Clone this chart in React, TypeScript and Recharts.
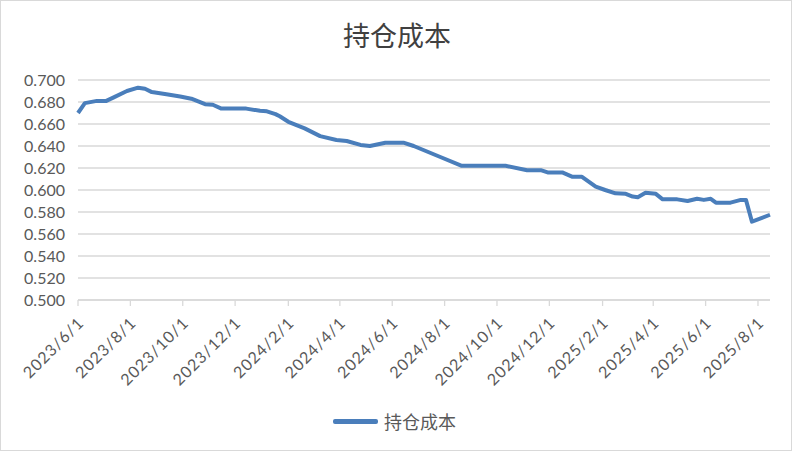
import React from 'react';
import { LineChart, Line, XAxis, YAxis, CartesianGrid } from 'recharts';

// values (date, holding cost)
const dates = [
    '2023-06-01', '2023-06-09', '2023-06-23', '2023-07-04', '2023-07-12', '2023-07-28',
    '2023-08-10', '2023-08-18', '2023-08-26', '2023-09-12', '2023-09-28', '2023-10-11',
    '2023-10-27', '2023-11-05', '2023-11-15', '2023-12-14', '2023-12-30', '2024-01-07',
    '2024-01-17', '2024-01-22', '2024-02-01', '2024-02-20', '2024-03-09', '2024-03-28',
    '2024-04-09', '2024-04-25', '2024-05-06', '2024-05-24', '2024-06-14', '2024-06-26',
    '2024-07-27', '2024-08-21', '2024-10-11', '2024-11-05', '2024-11-21', '2024-11-29',
    '2024-12-16', '2024-12-28', '2025-01-08', '2025-01-24', '2025-02-04', '2025-02-16',
    '2025-02-28', '2025-03-08', '2025-03-14', '2025-03-23', '2025-04-04', '2025-04-12',
    '2025-04-29', '2025-05-11', '2025-05-22', '2025-05-30', '2025-06-07', '2025-06-13',
    '2025-06-30', '2025-07-12', '2025-07-18', '2025-07-25', '2025-08-15',
];

const cost = [
    0.670, 0.679, 0.681, 0.681, 0.684, 0.690,
    0.693, 0.692, 0.689, 0.687, 0.685, 0.683,
    0.678, 0.6775, 0.674, 0.674, 0.672, 0.6715,
    0.669, 0.667, 0.662, 0.656, 0.649, 0.6455,
    0.6445, 0.641, 0.640, 0.643, 0.643, 0.640,
    0.630, 0.622, 0.622, 0.618, 0.618, 0.616,
    0.616, 0.612, 0.612, 0.603, 0.600, 0.597,
    0.5965, 0.594, 0.5935, 0.5975, 0.5965, 0.5915,
    0.5915, 0.590, 0.592, 0.591, 0.592, 0.5885,
    0.5885, 0.591, 0.591, 0.5712, 0.5775,
];

const tickDates = [
    '2023-06-01', '2023-08-01', '2023-10-01', '2023-12-01', '2024-02-01', '2024-04-01',
    '2024-06-01', '2024-08-01', '2024-10-01', '2024-12-01', '2025-02-01', '2025-04-01',
    '2025-06-01', '2025-08-01',
];

const yTicks = [0.5, 0.52, 0.54, 0.56, 0.58, 0.6, 0.62, 0.64, 0.66, 0.68, 0.7];

const toTime = (s: string) => {
    const [y, m, d] = s.split('-').map(Number);
    return Date.UTC(y, m - 1, d);
};

const fmtDate = (t: number) => {
    const d = new Date(t);
    return `${d.getUTCFullYear()}/${d.getUTCMonth() + 1}/${d.getUTCDate()}`;
};

const data = dates.map((s, i) => ({ t: toTime(s), cost: cost[i] }));
const xTicks = tickDates.map(toTime);

const BLUE = '#4a7ebb';
const GRID = '#d9d9d9';
const LABEL = '#595959';
const CJK = '"Noto Sans CJK SC", sans-serif';

function DateTick({ x, y, payload }: any) {
    return (
        <g transform={`translate(${x + 3},${y + 14})`}>
            <text
                x={0}
                y={0}
                dy="0.35em"
                textAnchor="end"
                transform="rotate(-45)"
                fill={LABEL}
                fontSize={16}
                fontFamily="Lato, sans-serif"
                letterSpacing={1}
            >
                {fmtDate(payload.value)}
            </text>
        </g>
    );
}

export default function App() {
    return (
        <div
            style={{
                position: 'absolute',
                left: 0,
                top: 0,
                width: 794,
                height: 452,
                background: '#fff',
            }}
        >
            <div
                style={{
                    position: 'absolute',
                    left: 0,
                    top: 0,
                    width: 792,
                    height: 451,
                    border: `1px solid ${GRID}`,
                    boxSizing: 'border-box',
                }}
            />
            <div
                style={{
                    position: 'absolute',
                    left: 0,
                    top: 21,
                    width: 794,
                    textAlign: 'center',
                    fontFamily: CJK,
                    fontSize: 27,
                    lineHeight: '27px',
                    color: '#404040',
                }}
            >
                持仓成本
            </div>
            <div style={{ position: 'absolute', left: 0, top: 0 }}>
                <LineChart
                    width={794}
                    height={452}
                    data={data}
                    margin={{ top: 80, right: 24, bottom: 0, left: 0 }}
                >
                    <CartesianGrid horizontal vertical={false} stroke={GRID} strokeWidth={1.3} />
                    <XAxis
                        dataKey="t"
                        type="number"
                        scale="time"
                        domain={[data[0].t, data[data.length - 1].t]}
                        ticks={xTicks}
                        interval={0}
                        height={152}
                        tickSize={6}
                        tickMargin={0}
                        stroke={GRID}
                        axisLine={{ stroke: GRID, strokeWidth: 1.3 }}
                        tickLine={{ stroke: GRID, strokeWidth: 1.3 }}
                        tick={<DateTick />}
                    />
                    <YAxis
                        type="number"
                        domain={[0.5, 0.7]}
                        ticks={yTicks}
                        interval={0}
                        width={78}
                        axisLine={false}
                        tickLine={false}
                        tickSize={0}
                        tickMargin={13}
                        tickFormatter={(v: number) => v.toFixed(3)}
                        tick={{ fill: LABEL, fontSize: 16, fontFamily: 'Lato, sans-serif' }}
                    />
                    <Line
                        type="linear"
                        dataKey="cost"
                        stroke={BLUE}
                        strokeWidth={4}
                        strokeLinejoin="round"
                        dot={false}
                        isAnimationActive={false}
                    />
                </LineChart>
            </div>
            <div
                style={{
                    position: 'absolute',
                    left: 333,
                    top: 419,
                    width: 45,
                    height: 4.5,
                    borderRadius: 2,
                    background: BLUE,
                }}
            />
            <div
                style={{
                    position: 'absolute',
                    left: 384,
                    top: 411,
                    fontFamily: CJK,
                    fontSize: 18,
                    lineHeight: '20px',
                    color: LABEL,
                }}
            >
                持仓成本
            </div>
        </div>
    );
}
